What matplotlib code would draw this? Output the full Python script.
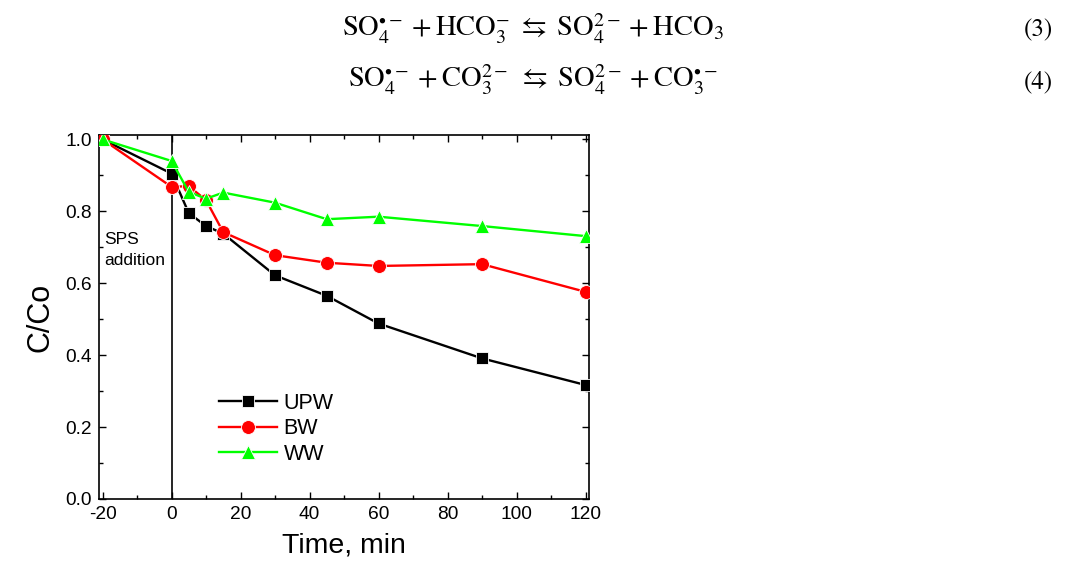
import matplotlib
matplotlib.use("Agg")
import matplotlib.pyplot as plt
from matplotlib.ticker import MultipleLocator

# Sampling times (min) and normalised concentrations C/Co
time_min = [-20, 0, 5, 10, 15, 30, 45, 60, 90, 120]
upw = [1.00, 0.905, 0.795, 0.759, 0.738, 0.622, 0.565, 0.488, 0.391, 0.317]
bw = [1.00, 0.868, 0.870, 0.831, 0.742, 0.678, 0.657, 0.648, 0.653, 0.576]
ww = [1.00, 0.940, 0.854, 0.835, 0.852, 0.824, 0.778, 0.785, 0.759, 0.731]

series_names = ["UPW", "BW", "WW"]
x_ticks = [-20, 0, 20, 40, 60, 80, 100, 120]
y_ticks = [0.0, 0.2, 0.4, 0.6, 0.8, 1.0]

plt.rcParams["font.family"] = ["Liberation Sans", "DejaVu Sans"]
plt.rcParams["mathtext.fontset"] = "stix"
plt.rcParams["axes.unicode_minus"] = False

fig = plt.figure(figsize=(10.72, 5.74), dpi=100)
ax = fig.add_axes([0.0924, 0.1307, 0.457, 0.634])

styles = [
    dict(color="black", marker="s", ms=8.3),
    dict(color="#ff0000", marker="o", ms=10),
    dict(color="#00ff00", marker="^", ms=10.5),
]
for name, vals, st in zip(series_names, [upw, bw, ww], styles):
    ax.plot(time_min, vals, color=st["color"], lw=1.7, marker=st["marker"],
            ms=st["ms"], mfc=st["color"], mec="white", mew=0.6, label=name,
            zorder=3)

# SPS dosing moment
ax.axvline(0, color="black", lw=1.2, zorder=2)
ax.text(-19.6, 0.692, "SPS\naddition", fontsize=12.5, ha="left", va="center",
        linespacing=1.5)

ax.set_xlim(-21, 121)
ax.set_ylim(0, 1.012)
ax.set_xticks(x_ticks)
ax.set_yticks(y_ticks)
ax.set_yticklabels([f"{v:.1f}" for v in y_ticks])
ax.xaxis.set_minor_locator(MultipleLocator(10))
ax.yaxis.set_minor_locator(MultipleLocator(0.1))
ax.tick_params(which="both", direction="in", top=True, right=True,
               labeltop=False, labelright=False, width=1.0)
ax.tick_params(which="major", length=5, labelsize=13.8, pad=5)
ax.tick_params(which="minor", length=3)
for sp in ax.spines.values():
    sp.set_linewidth(1.2)

ax.set_xlabel("Time, min", fontsize=20.5, labelpad=7)
ax.set_ylabel("C/Co", fontsize=22, labelpad=7)

ax.legend(loc="lower left", bbox_to_anchor=(0.227, 0.071), frameon=False,
          fontsize=15.5, handlelength=2.7, handletextpad=0.3, labelspacing=0.2,
          borderaxespad=0)

# Reaction equations set above the chart
eq1 = (r"$\mathrm{SO}_4^{\bullet -} \:+\: \mathrm{HCO}_3^{-} \;\leftrightarrows\;"
       r" \mathrm{SO}_4^{2-} \:+\: \mathrm{HCO}_3$")
eq2 = (r"$\mathrm{SO}_4^{\bullet -} \:+\: \mathrm{CO}_3^{2-} \;\leftrightarrows\;"
       r" \mathrm{SO}_4^{2-} \:+\: \mathrm{CO}_3^{\bullet -}$")
fig.text(0.497, 1 - 29 / 574, eq1, fontsize=20.5, ha="center", va="center")
fig.text(0.497, 1 - 80 / 574, eq2, fontsize=20.5, ha="center", va="center")
fig.text(0.969, 1 - 30 / 574, "(3)", fontsize=18, ha="center", va="center",
         family="STIXGeneral")
fig.text(0.969, 1 - 82 / 574, "(4)", fontsize=18, ha="center", va="center",
         family="STIXGeneral")

fig.savefig("out.png", dpi=100)
